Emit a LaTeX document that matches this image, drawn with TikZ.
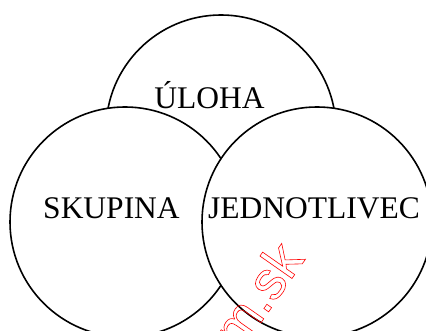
\documentclass[tikz,border=0pt]{standalone}
\usepackage{fontspec}
\setmainfont{Liberation Serif}
\newfontfamily\wmfont{Liberation Sans}
\newcommand\outlinetext[1]{\special{pdf:literal direct 1 Tr 0.6 w 1 0 0 RG}#1\special{pdf:literal direct 0 Tr}}
\begin{document}
\begin{tikzpicture}[x=1pt,y=1pt,
  circ/.style={circle,draw=black,line width=1.6pt,fill=white,minimum size=230pt,inner sep=0pt},
  lbl/.style={font=\fontsize{31.5}{36}\selectfont,inner sep=0pt,anchor=base},
  wm/.style={rotate=55,anchor=base east,inner sep=0pt,text=red,font=\wmfont\fontsize{54}{56}\selectfont}]
\useasboundingbox (0,0) rectangle (426,331);
\clip (0,0) rectangle (426,331);
\node[circ] (uloha) at (221,201) {};
\node[circ] (skupina) at (125,109) {};
\node[circ] (jednotlivec) at (317,109) {};
\node[lbl] (t1) at (209.5,222) {ÚLOHA};
\node[lbl] (t2) at (111.5,112) {SKUPINA};
\node[lbl] (t3) at (314,112) {JEDNOTLIVEC};
\node[wm] (mark) at (305.5,71.8) {\outlinetext{m.sk}};
\end{tikzpicture}
\end{document}
